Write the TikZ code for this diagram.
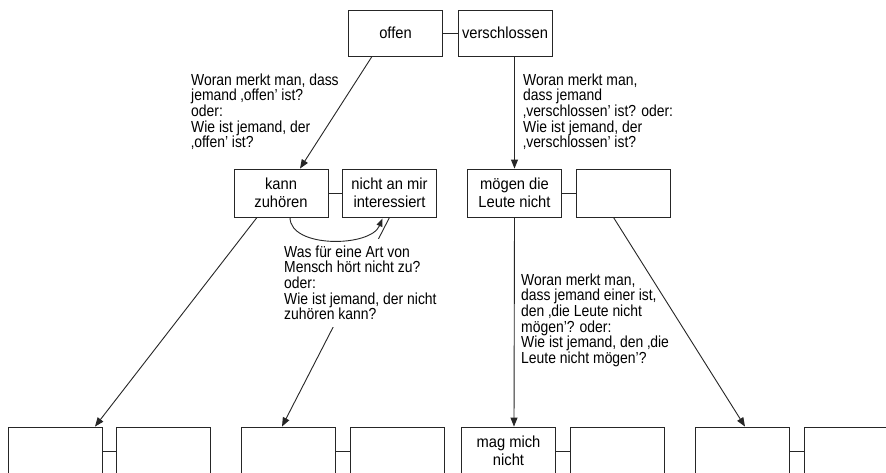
\documentclass[tikz,border=0pt]{standalone}
\usepackage{fontspec}
\setmainfont{Liberation Sans}[FakeStretch=0.92]
\newfontfamily\notefont{Liberation Sans}[FakeStretch=0.87]
\usetikzlibrary{arrows.meta,calc}
\begin{document}
\begin{tikzpicture}[x=1pt,y=-1pt,
  box/.style={draw=black!85, line width=0.9pt, minimum width=94pt, minimum height=48pt,
    inner sep=0pt, align=center, font=\fontsize{16}{18}\selectfont},
  link/.style={draw=black!85, line width=0.9pt},
  arr/.style={link, -{Triangle[length=9pt,width=7pt]}},
  note/.style={align=left, anchor=north west, inner sep=2pt,
    font=\notefont\fontsize{16}{15.7}\selectfont}]
\clip (0,0) rectangle (886,472);
\fill[white] (0,0) rectangle (886,472);

% top pair
\node[box, minimum height=46pt] (offen) at (395.5,33) {offen};
\node[box, minimum height=46pt] (versch) at (505,33) {verschlossen};
\draw[link] (offen) -- (versch);

% middle row
\node[box] (kann) at (281,193) {kann\\zuhören};
\node[box] (nicht) at (389.5,193) {nicht an mir\\interessiert};
\node[box] (moegen) at (514.5,193) {mögen die\\Leute nicht};
\node[box] (leer) at (623.5,193) {};
\draw[link] (kann) -- (nicht);
\draw[link] (moegen) -- (leer);

% bottom row (cut by the lower edge)
\node[box] (b1) at (55,451) {};
\node[box] (b2) at (163.5,451) {};
\node[box] (b3) at (288.5,451) {};
\node[box] (b4) at (397.5,451) {};
\node[box] (b5) at (508.5,451) {mag mich\\nicht};
\node[box] (b6) at (617,451) {};
\node[box] (b7) at (742.5,451) {};
\node[box] (b8) at (851,451) {};
\foreach \l/\r in {b1/b2,b3/b4,b5/b6,b7/b8} \draw[link] (\l) -- (\r);

% connectors between levels
\draw[arr] ($(offen.south)+(-23.5,0)$) -- ($(kann.north)+(19,0)$);
\draw[arr] (moegen.north |- versch.south) -- (moegen.north);
\draw[arr] ($(kann.south)+(-24,0)$) -- ($(b1.north)+(40,0)$);
\draw[arr] (nicht.south) -- ($(b3.north)+(-6.5,0)$);
\draw[arr] (moegen.south) -- ($(b5.north)+(5.5,0)$);
\draw[arr] ($(leer.south)+(-10,0)$) -- ($(b7.north)+(2.5,0)$);

% questions
\node[note] (q1) at (189,71.3) {Woran merkt man, dass\\jemand ‚offen’ ist?\\oder:\\Wie ist jemand, der\\‚offen’ ist?};
\node[note] (q2) at (521,71.3) {Woran merkt man,\\dass jemand\\‚verschlossen’ ist? oder:\\Wie ist jemand, der\\‚verschlossen’ ist?};
\node[note, fill=white, inner xsep=3pt, inner ysep=7pt] (q3) at (281,238.3) {Was für eine Art von\\Mensch hört nicht zu?\\oder:\\Wie ist jemand, der nicht\\zuhören kann?};
\node[note] (q4) at (519,271.3) {Woran merkt man,\\dass jemand einer ist,\\den ‚die Leute nicht\\mögen’? oder:\\Wie ist jemand, den ‚die\\Leute nicht mögen’?};

% curved link from "kann zuhören" to "nicht an mir interessiert"
\draw[link, -{Triangle[length=8pt,width=6pt]}] ($(kann.south)+(9,0)$)
  .. controls +(0,31) and +(-12,29) .. ($(nicht.south)+(-7,1)$);
\end{tikzpicture}
\end{document}
